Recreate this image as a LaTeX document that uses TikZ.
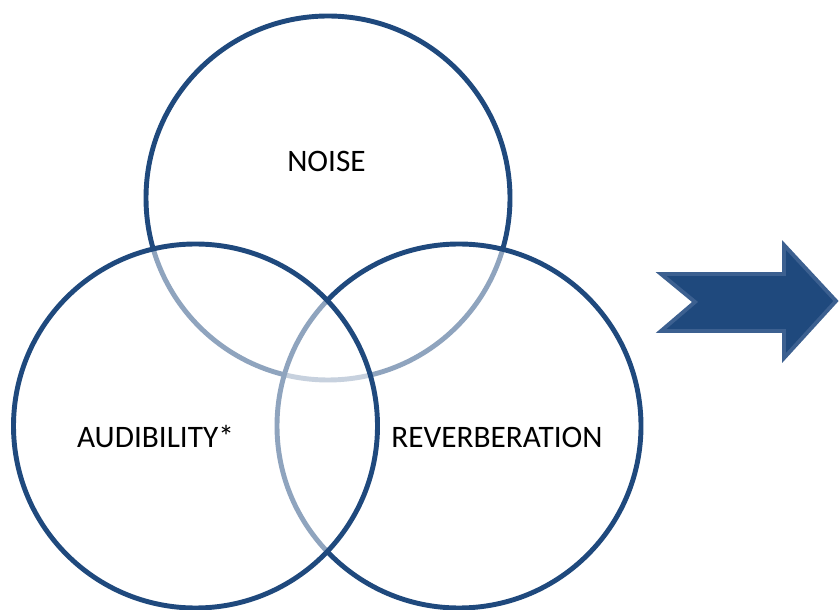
\documentclass[tikz,border=0pt]{standalone}
\usepackage{fontspec}
\setmainfont{Carlito}
\usepackage{xcolor}
\usepackage{tikz}
\definecolor{vennblue}{HTML}{1F497D}
\definecolor{arrowedge}{HTML}{3C6090}
\begin{document}
\begin{tikzpicture}
\useasboundingbox (0,0) rectangle (16.8,12.18);
%\draw[step=1cm,gray,very thin] (0,0) grid (16.8,12.18);
\draw[vennblue,line width=2.8pt,fill=white,fill opacity=0.5] (6.56,8.22) circle (3.64);
\draw[vennblue,line width=2.8pt,fill=white,fill opacity=0.5] (9.18,3.66) circle (3.64);
\draw[vennblue,line width=2.8pt,fill=white,fill opacity=0.5] (3.91,3.66) circle (3.64);
\node[font=\fontsize{17.8}{21}\selectfont] (noise) at (6.53,8.96) {NOISE};
\node[font=\fontsize{17.8}{21}\selectfont] (audibility) at (3.11,3.44) {AUDIBILITY*};
\node[font=\fontsize{17.8}{21}\selectfont] (reverberation) at (9.94,3.44) {REVERBERATION};
\draw[arrowedge,line width=2.2pt,fill=vennblue,line join=miter] (13.22,6.70)--(15.68,6.70)--(15.68,7.28)--(16.72,6.16)--(15.68,5.02)--(15.68,5.56)--(13.22,5.56)--(13.90,6.14)--cycle;
\end{tikzpicture}
\end{document}
